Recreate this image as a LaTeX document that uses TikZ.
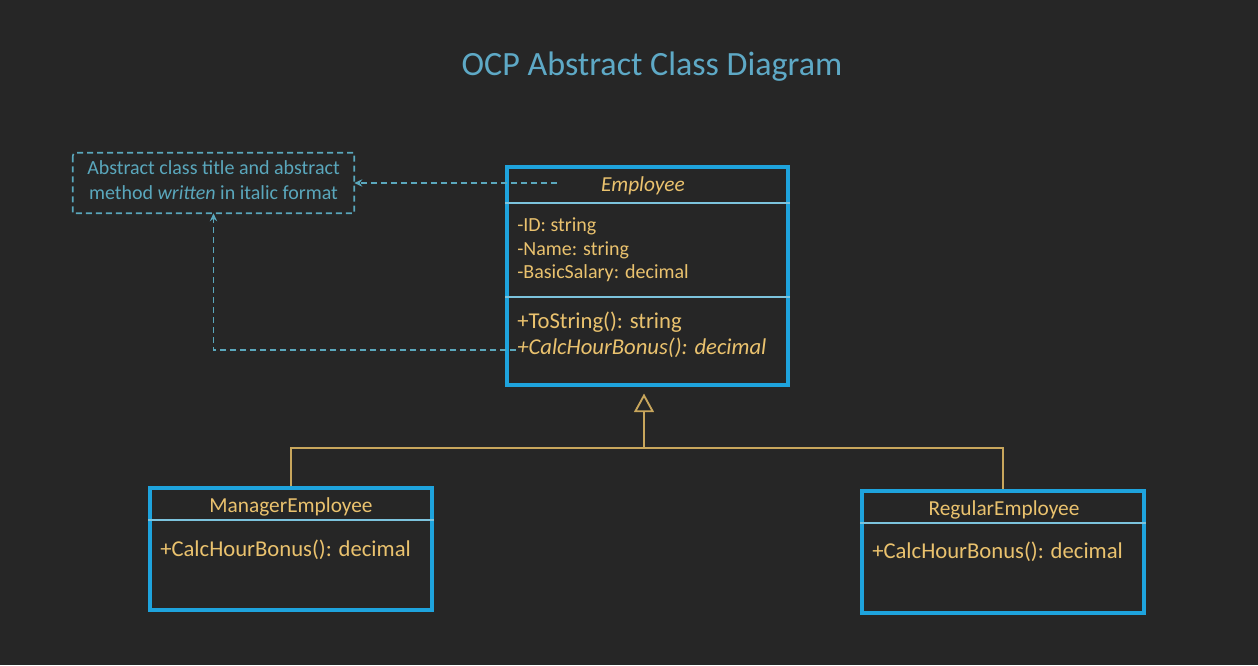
\documentclass[tikz,border=0pt]{standalone}
\usepackage{fontspec}
\setmainfont{Carlito}
\usetikzlibrary{arrows.meta,fit}
\definecolor{bg}{HTML}{262626}
\definecolor{titlec}{HTML}{5EA9C6}
\definecolor{boxc}{HTML}{1EA3DD}
\definecolor{sepc}{HTML}{7CC3DD}
\definecolor{txt}{HTML}{EAC26E}
\definecolor{notec}{HTML}{5AA7BC}
\definecolor{linec}{HTML}{C8A65C}
\tikzset{
  classbox/.style={draw=boxc,line width=2.3pt,inner sep=0pt},
  sepline/.style={draw=sepc,line width=1.4pt},
  notebox/.style={draw=notec,line width=1.2pt,dash pattern=on 4.5pt off 3pt},
  notearrow/.style={draw=notec,line width=1.2pt,dash pattern=on 4.5pt off 3pt,-{Stealth[length=6pt,width=5.5pt]}},
  gen/.style={draw=linec,line width=1.4pt},
  attr/.style={text=txt,anchor=base west,inner sep=0pt,font=\fontsize{15}{18}\selectfont},
  meth/.style={text=txt,anchor=base west,inner sep=0pt,font=\fontsize{17}{20}\selectfont},
  cname/.style={text=txt,anchor=base,inner sep=0pt,font=\fontsize{16}{19}\selectfont},
  notetxt/.style={text=notec,anchor=base,inner sep=0pt,font=\fontsize{15}{18}\selectfont},
}
\begin{document}
\begin{tikzpicture}[x=0.75pt,y=-0.75pt]
\fill[bg] (0,0) rectangle (1258,665);
\useasboundingbox (0,0) rectangle (1258,665);

% title
\node[text=titlec,anchor=base,inner sep=0pt,font=\fontsize{25.5}{30}\selectfont] (title) at (652,75) {OCP Abstract Class Diagram};

% Employee class
\node[classbox,fit={(507,167) (788,385)}] (emp) {};
\draw[sepline] (emp.west |- 0,203) -- (emp.east |- 0,203);
\draw[sepline] (emp.west |- 0,297) -- (emp.east |- 0,297);
\node[cname,font=\fontsize{16}{19}\selectfont\itshape] (empname) at (643,191) {Employee};
\node[attr] (a1) at (517,231) {-ID: string};
\node[attr] (a2) at (517,255) {-Name: string};
\node[attr] (a3) at (517,278) {-BasicSalary: decimal};
\node[meth] (m1) at (517,328) {+ToString(): string};
\node[meth,font=\fontsize{17}{20}\selectfont\itshape] (m2) at (517,354) {+CalcHourBonus(): decimal};

% note
\node[inner sep=0pt,fit={(73,153) (354,213)}] (note) {};
\draw[notebox] ([yshift=-5.25pt]note.north west) .. controls (note.north west) .. ([xshift=5.25pt]note.north west) -- (note.north east) -- (note.south east) -- (note.south west) -- cycle;
\node[notetxt] (n1) at (213.5,174) {Abstract class title and abstract};
\node[notetxt] (n2) at (213.5,199) {method \textit{written} in italic format};

\coordinate (s1) at (557,183);
\coordinate (s2) at (516,350);
\draw[notearrow] (s1) -- (note.east);
\draw[notearrow] (s2) -| (note.south);

% subclasses
\node[classbox,fit={(150,488) (432,610)}] (mgr) {};
\draw[sepline] (mgr.west |- 0,520) -- (mgr.east |- 0,520);
\node[cname] (mgrname) at (291,512) {ManagerEmployee};
\node[meth] (mgrm) at (160,556) {+CalcHourBonus(): decimal};

\node[classbox,fit={(862,491) (1144,613)}] (reg) {};
\draw[sepline] (reg.west |- 0,523) -- (reg.east |- 0,523);
\node[cname] (regname) at (1004,515) {RegularEmployee};
\node[meth] (regm) at (872,558) {+CalcHourBonus(): decimal};

% generalization
\coordinate (j) at (644,448);
\draw[gen] (mgr.north) |- (j) -| (reg.north);
\draw[gen,-{Triangle[open,length=14pt,width=15pt]},shorten >=5.25pt] (j) -- (j |- emp.south);
\end{tikzpicture}
\end{document}
